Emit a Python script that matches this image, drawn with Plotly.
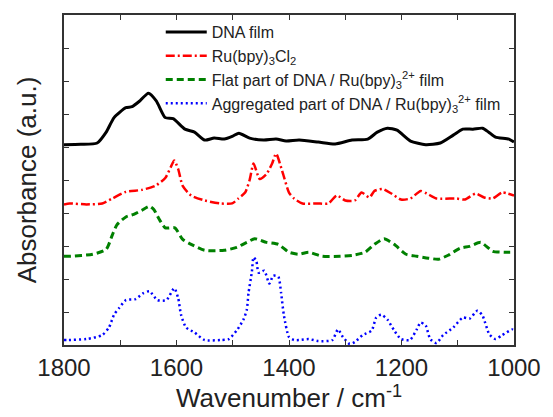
import plotly.graph_objects as go

# ---- data (wavenumber in cm^-1, absorbance in arbitrary units with vertical offsets) ----
dna_wn = [1800, 1770, 1741, 1725, 1711, 1690, 1679, 1665, 1650, 1636, 1620, 1606, 1585, 1568,
          1550, 1533, 1515, 1500, 1489, 1470, 1445, 1423, 1405, 1382, 1348, 1318, 1288, 1260,
          1243, 1225, 1208, 1184, 1157, 1131, 1108, 1091, 1073, 1056, 1045, 1033, 1009, 1000]
dna_abs = [6.07, 6.08, 6.12, 6.45, 6.89, 7.19, 7.22, 7.40, 7.63, 7.40, 6.89, 6.86, 6.54, 6.45,
           6.21, 6.27, 6.24, 6.33, 6.42, 6.27, 6.21, 6.24, 6.18, 6.21, 6.15, 6.09, 6.21, 6.24,
           6.45, 6.57, 6.51, 6.18, 6.07, 6.12, 6.36, 6.54, 6.54, 6.57, 6.45, 6.30, 6.24, 6.15]

ru_wn = [1800, 1790, 1760, 1732, 1714, 1690, 1662, 1638, 1620, 1610, 1604, 1597, 1589, 1574,
         1550, 1522, 1501, 1490, 1478, 1470, 1463, 1452, 1440, 1430, 1423, 1411, 1400, 1391,
         1376, 1350, 1330, 1315, 1300, 1283, 1271, 1257, 1248, 1234, 1218, 1201, 1184, 1166,
         1155, 1138, 1103, 1087, 1068, 1053, 1038, 1021, 1000]
ru_abs = [4.26, 4.29, 4.26, 4.29, 4.44, 4.64, 4.70, 4.82, 5.06, 5.40, 5.59, 5.33, 4.82, 4.53,
          4.38, 4.29, 4.29, 4.44, 4.62, 5.00, 5.50, 5.03, 5.18, 5.50, 5.80, 5.21, 4.62, 4.44,
          4.29, 4.29, 4.29, 4.53, 4.38, 4.38, 4.62, 4.47, 4.67, 4.73, 4.59, 4.41, 4.44, 4.67,
          4.59, 4.44, 4.44, 4.41, 4.59, 4.47, 4.44, 4.62, 4.53]

flat_wn = [1800, 1790, 1749, 1725, 1714, 1706, 1690, 1676, 1662, 1648, 1640, 1632, 1620, 1603,
           1589, 1574, 1550, 1515, 1493, 1475, 1461, 1440, 1419, 1400, 1382, 1365, 1341, 1309,
           1286, 1265, 1248, 1231, 1213, 1192, 1173, 1152, 1134, 1117, 1096, 1079, 1059, 1038,
           1017, 1000]
flat_abs = [2.69, 2.69, 2.75, 2.90, 3.34, 3.64, 3.88, 3.96, 4.08, 4.20, 4.10, 3.85, 3.55, 3.55,
            3.20, 3.05, 2.87, 2.87, 2.96, 3.11, 3.22, 3.11, 3.05, 2.81, 2.75, 2.81, 2.69, 2.69,
            2.72, 2.81, 3.05, 3.22, 3.05, 2.75, 2.69, 2.63, 2.60, 2.72, 2.93, 2.99, 3.11, 2.84,
            2.81, 2.81]

agg_wn = [1800, 1793, 1760, 1732, 1720, 1711, 1702, 1690, 1673, 1659, 1648, 1634, 1618, 1604,
          1597, 1592, 1583, 1568, 1550, 1522, 1507, 1493, 1481, 1475, 1472, 1466, 1463, 1458,
          1454, 1444, 1435, 1428, 1419, 1414, 1409, 1400, 1391, 1382, 1365, 1348, 1323, 1313,
          1304, 1292, 1283, 1269, 1253, 1245, 1236, 1225, 1213, 1201, 1185, 1173, 1166, 1157,
          1149, 1138, 1126, 1108, 1091, 1079, 1065, 1056, 1044, 1033, 1021, 1003, 1000]
agg_abs = [0.15, 0.15, 0.18, 0.30, 0.53, 0.92, 1.12, 1.36, 1.39, 1.57, 1.63, 1.36, 1.36, 1.72,
           1.42, 0.92, 0.53, 0.38, 0.15, 0.15, 0.18, 0.44, 0.77, 1.07, 1.57, 2.22, 2.66, 2.54,
           2.19, 2.25, 1.86, 2.10, 2.07, 1.57, 0.89, 0.24, 0.15, 0.15, 0.18, 0.12, 0.15, 0.47,
           0.24, 0.03, 0.09, 0.30, 0.44, 0.83, 0.92, 0.77, 0.44, 0.18, 0.15, 0.47, 0.68, 0.59,
           0.18, 0.06, 0.30, 0.53, 0.83, 0.80, 1.04, 0.89, 0.33, 0.18, 0.30, 0.47, 0.44]

x_tickvals = [1800, 1700, 1600, 1500, 1400, 1300, 1200, 1100, 1000]
x_ticktext = ["1800", "", "1600", "", "1400", "", "1200", "", "1000"]
y_tickvals = [1, 2, 3, 4, 5, 6, 7, 8, 9]

names = ["DNA film",
         "Ru(bpy)<sub>3</sub>Cl<sub>2</sub>",
         "Flat part of DNA / Ru(bpy)<sub>3</sub><sup>2+</sup> film",
         "Aggregated part of DNA / Ru(bpy)<sub>3</sub><sup>2+</sup> film"]

fig = go.Figure()
fig.add_trace(go.Scatter(x=dna_wn, y=dna_abs, mode="lines", name=names[0],
                         line=dict(color="black", width=3, shape="spline", smoothing=0.6)))
fig.add_trace(go.Scatter(x=ru_wn, y=ru_abs, mode="lines", name=names[1],
                         line=dict(color="#ff0000", width=2.5, dash="9px,3px,2px,3px",
                                   shape="spline", smoothing=0.6)))
fig.add_trace(go.Scatter(x=flat_wn, y=flat_abs, mode="lines", name=names[2],
                         line=dict(color="#008000", width=3, dash="7px,4px",
                                   shape="spline", smoothing=0.6)))
fig.add_trace(go.Scatter(x=agg_wn, y=agg_abs, mode="lines", name=names[3],
                         line=dict(color="#0000ff", width=2.5, dash="2px,3px",
                                   shape="spline", smoothing=0.6)))

font_family = "Liberation Sans, Arial, sans-serif"

fig.update_layout(
    width=553, height=417,
    margin=dict(l=64, r=30, t=15, b=63),
    paper_bgcolor="white", plot_bgcolor="white",
    font=dict(family=font_family, color="#222222"),
    showlegend=True,
    legend=dict(x=0.215, y=1.0, xanchor="left", yanchor="top",
                bgcolor="rgba(0,0,0,0)", borderwidth=0, itemwidth=41,
                font=dict(size=16, family=font_family, color="#222222"),
                tracegroupgap=0),
    xaxis=dict(range=[1800, 1000], tickvals=x_tickvals, ticktext=x_ticktext,
               ticks="inside", ticklen=5, tickwidth=1.2, tickcolor="#333333",
               showline=True, linecolor="#333333", linewidth=1.5, mirror="ticks",
               showgrid=False, zeroline=False,
               tickfont=dict(size=24, family=font_family, color="#222222"),
               title=dict(text="Wavenumber / cm<sup>-1</sup>",
                          font=dict(size=26, family=font_family, color="#222222"),
                          standoff=6)),
    yaxis=dict(range=[0, 10], tickvals=y_tickvals, showticklabels=False,
               ticks="inside", ticklen=5, tickwidth=1.2, tickcolor="#333333",
               showline=True, linecolor="#333333", linewidth=1.5, mirror="ticks",
               showgrid=False, zeroline=False,
               title=dict(text="Absorbance (a.u.)",
                          font=dict(size=26, family=font_family, color="#222222"),
                          standoff=18)),
)

fig.write_html("out.html")
